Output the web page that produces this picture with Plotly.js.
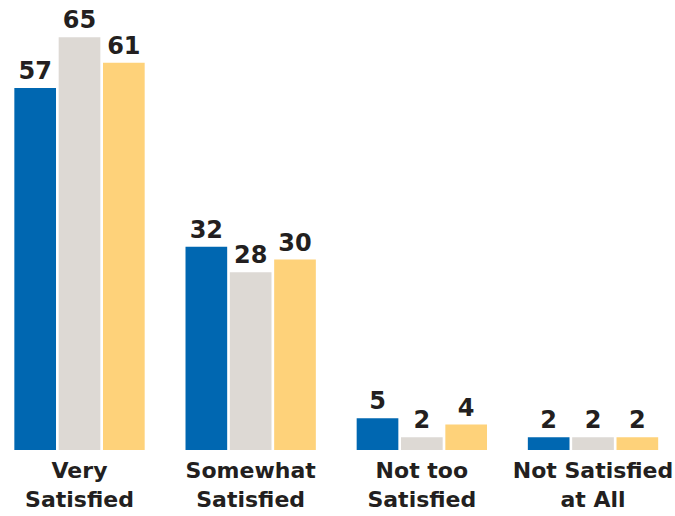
<!DOCTYPE html>
<html>
<head>
<meta charset="utf-8">
<script src="https://cdn.plot.ly/plotly-3.0.1.min.js"></script>
<style>html,body{margin:0;padding:0;background:#fff;}#chart{width:675px;height:516px;}</style>
</head>
<body>
<div id="chart"></div>
<script>
const categories = ["Very<br>Satisfied", "Somewhat<br>Satisfied", "Not too<br>Satisfied", "Not Satisfied<br>at All"];
const series1 = [57, 32, 5, 2];
const series2 = [65, 28, 2, 2];
const series3 = [61, 30, 4, 2];
const seriesNames = ["Series 1", "Series 2", "Series 3"];
const colors = ["#0067b1", "#ddd9d4", "#fed27a"];

const xs = categories.map((c, i) => i);
const fontFam = "'DejaVu Sans', sans-serif";
const data = [series1, series2, series3].map((vals, k) => ({
  type: "bar",
  x: xs,
  y: vals,
  name: seriesNames[k],
  marker: {color: colors[k]},
  text: vals.map(String),
  textposition: "outside",
  cliponaxis: false,
  textfont: {family: fontFam, size: 24, color: "#231f20", weight: "bold"},
  hoverinfo: "none"
}));

const layout = {
  width: 675, height: 516,
  margin: {l: 0, r: 0, t: 0, b: 66},
  paper_bgcolor: "#fff", plot_bgcolor: "#fff",
  showlegend: false,
  barmode: "group",
  bargap: 0.223,
  bargroupgap: 0.06,
  xaxis: {
    range: [-0.4645, 3.479],
    tickvals: xs, ticktext: categories,
    showgrid: false, zeroline: false, showline: false, ticks: "",
    ticklabelstandoff: 5,
    tickfont: {family: fontFam, size: 22, color: "#231f20", weight: "bold"},
    fixedrange: true
  },
  yaxis: {
    range: [0, 70.87], visible: false, showgrid: false, zeroline: false, fixedrange: true
  },
  uniformtext: {mode: false}
};
Plotly.newPlot("chart", data, layout, {displayModeBar: false, staticPlot: true});
</script>
</body>
</html>
